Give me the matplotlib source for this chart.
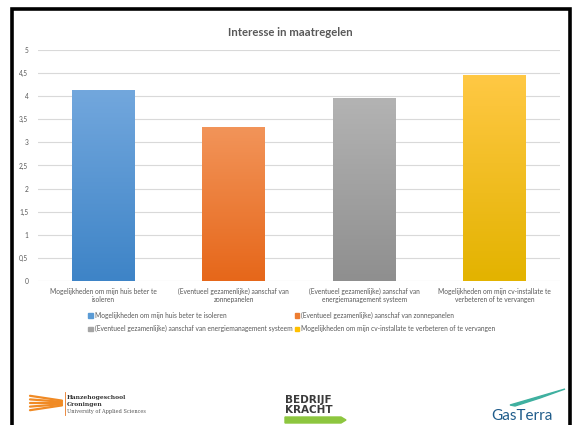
import numpy as np
import matplotlib
matplotlib.use("Agg")
import matplotlib.pyplot as plt
from matplotlib.colors import LinearSegmentedColormap
from matplotlib.patches import Rectangle, Polygon

plt.rcParams['font.family'] = ['Lato', 'DejaVu Sans']

categories = [
    "Mogelijkheden om mijn huis beter te\nisoleren",
    "(Eventueel gezamenlijke) aanschaf van\nzonnepanelen",
    "(Eventueel gezamenlijke) aanschaf van\nenergiemanagement systeem",
    "Mogelijkheden om mijn cv-installate te\nverbeteren of te vervangen",
]
legend_labels = [
    "Mogelijkheden om mijn huis beter te isoleren",
    "(Eventueel gezamenlijke) aanschaf van zonnepanelen",
    "(Eventueel gezamenlijke) aanschaf van energiemanagement systeem",
    "Mogelijkheden om mijn cv-installate te verbeteren of te vervangen",
]
values = [4.13, 3.33, 3.96, 4.45]
yticks = [0, 0.5, 1, 1.5, 2, 2.5, 3, 3.5, 4, 4.5, 5]
ytick_labels = ["0", "0,5", "1", "1,5", "2", "2,5", "3", "3,5", "4", "4,5", "5"]

# (top, bottom) gradient colours per bar
grad = [("#72a7dd", "#3e84c7"), ("#f29459", "#e6671a"),
        ("#b3b3b3", "#8f8f8f"), ("#ffc844", "#e3b300")]
solid = ["#5b9bd5", "#ed7d31", "#a5a5a5", "#ffc000"]
grey_txt = "#595959"

fig = plt.figure(figsize=(5.78, 4.25), dpi=100)
ax = fig.add_axes([38 / 578, 1 - 281 / 425, 522 / 578, 231 / 425])

x = np.arange(len(values))
bars = ax.bar(x, values, width=0.48, facecolor="none", edgecolor="none", zorder=3)
for b, (ctop, cbot) in zip(bars, grad):
    cmap = LinearSegmentedColormap.from_list("g", [cbot, ctop])
    x0, w, h = b.get_x(), b.get_width(), b.get_height()
    im = ax.imshow(np.linspace(0, 1, 100).reshape(-1, 1), cmap=cmap, origin="lower",
                   extent=[x0, x0 + w, 0, h], aspect="auto", zorder=3)
    im.set_clip_path(b)

ax.set_xlim(-0.5, len(values) - 0.5)
ax.set_ylim(0, 5)
ax.set_yticks(yticks)
ax.set_yticklabels(ytick_labels)
ax.set_xticks(x)
ax.set_xticklabels(categories)
ax.tick_params(axis="both", length=0, labelsize=4.8, labelcolor=grey_txt)
ax.tick_params(axis="y", pad=7)
ax.tick_params(axis="x", pad=5)
ax.yaxis.grid(True, color="#d9d9d9", lw=0.8, zorder=0)
ax.set_axisbelow(True)
for s in ax.spines.values():
    s.set_visible(False)

fig.text(0.502, 1 - 33 / 425, "Interesse in maatregelen", ha="center", va="center",
         fontsize=8.2, fontweight="bold", color=grey_txt)

handles = [Rectangle((0, 0), 1, 1, color=c) for c in solid]
order = [0, 2, 1, 3]
fig.legend([handles[i] for i in order], [legend_labels[i] for i in order],
           ncol=2, loc="center", bbox_to_anchor=(0.505, 1 - 322 / 425), frameon=False,
           fontsize=4.8, labelcolor=grey_txt, handlelength=0.7, handleheight=0.7,
           handletextpad=0.3, columnspacing=0.3, labelspacing=1.0)

# black frame around the slide
fig.add_artist(Rectangle((12 / 578, -0.05), 558 / 578, 1.05 - 9 / 425,
                         transform=fig.transFigure, fill=False, edgecolor="black", lw=2.6))

# logos (approximate)
fig.text(67 / 578, 1 - 398 / 425, "Hanzehogeschool", fontsize=4.3, fontweight="bold",
         family="DejaVu Serif", color="#333333", va="center")
fig.text(67 / 578, 1 - 404.5 / 425, "Groningen", fontsize=4.3, fontweight="bold",
         family="DejaVu Serif", color="#333333", va="center")
fig.text(67 / 578, 1 - 411 / 425, "University of Applied Sciences", fontsize=3.6,
         family="DejaVu Serif", color="#555555", va="center")
fig.add_artist(plt.Line2D([65 / 578, 65 / 578], [1 - 392 / 425, 1 - 415 / 425],
                          transform=fig.transFigure, color="#e87722", lw=0.6))
for dy in [-8, -4, 0, 4, 8]:
    fig.add_artist(plt.Line2D([30 / 578, 62 / 578],
                              [1 - (403 + dy * 0.9) / 425, 1 - (403 + dy * 0.3) / 425],
                              transform=fig.transFigure, color="#f08a24", lw=1.6,
                              solid_capstyle="round"))

fig.text(285 / 578, 1 - 400 / 425, "BEDRIJF", fontsize=7.5, fontweight="bold",
         family="DejaVu Sans", color="#3a3a3a", va="center")
fig.text(285 / 578, 1 - 410 / 425, "KRACHT", fontsize=7.5, fontweight="bold",
         family="DejaVu Sans", color="#3a3a3a", va="center")
fig.add_artist(Polygon([[285 / 578, 1 - 417 / 425], [341 / 578, 1 - 417 / 425],
                        [346 / 578, 1 - 420 / 425], [341 / 578, 1 - 423 / 425],
                        [285 / 578, 1 - 423 / 425]], closed=True,
                       transform=fig.transFigure, color="#8dc63f"))

fig.text(522 / 578, 1 - 416 / 425, "GasTerra", fontsize=11,
         color="#1f5c8b", ha="center", va="center")
fig.add_artist(Polygon([[510 / 578, 1 - 405 / 425], [565 / 578, 1 - 389 / 425],
                        [540 / 578, 1 - 398 / 425], [515 / 578, 1 - 406 / 425]],
                       closed=True, transform=fig.transFigure, color="#3fb0a0"))

fig.savefig("out.png", dpi=100, facecolor="white")
